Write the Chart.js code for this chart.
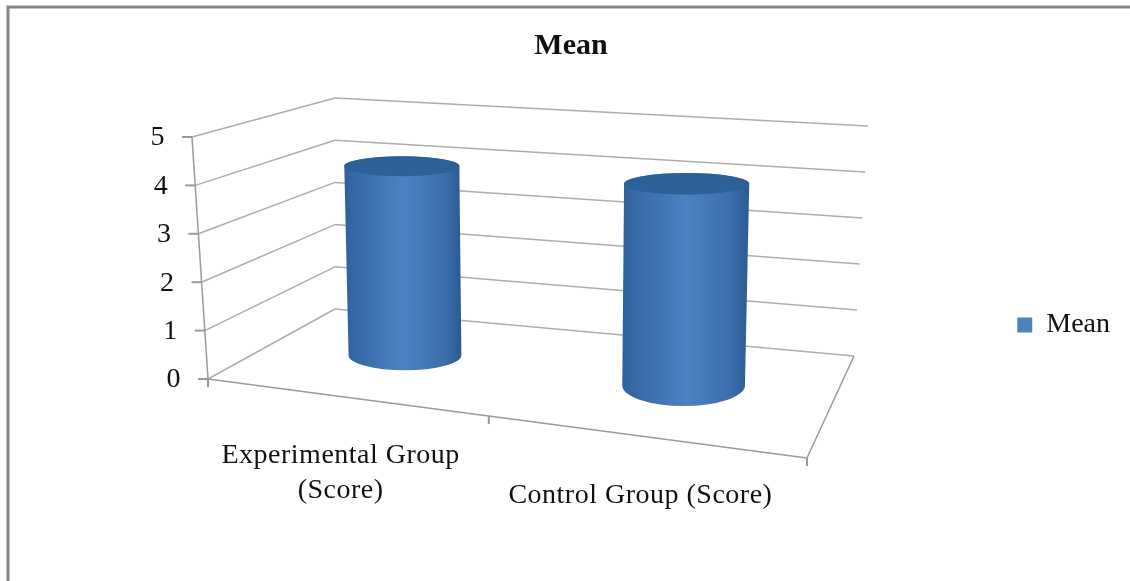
<!DOCTYPE html>
<html>
<head>
<meta charset="utf-8">
<title>Mean</title>
<script src="https://cdn.jsdelivr.net/npm/chart.js@4/dist/chart.umd.min.js"></script>
<style>
body { margin: 0; background: #fff; }
canvas { display: block; }
</style>
</head>
<body>
<canvas id="chart" width="1130" height="581"></canvas>
<script>
var categories = [['Experimental Group', '(Score)'], 'Control Group (Score)'];
var seriesName = 'Mean';
var meanValues = [4.07, 4.16];
var axisMax = 5;

var FONT = '"Liberation Serif", serif';
var GRID = '#adadad';
var AXIS = '#9a9a9a';

// 3d box: floor corners, wall height and lean at each corner
var FL = { x: 208, y: 379, h: 242, dx: -16 };
var FR = { x: 807, y: 458, h: 264, dx: 0 };
var BR = { x: 854, y: 356, h: 230, dx: 14 };
var BL = { x: 335, y: 309, h: 211, dx: 0 };

function floorMap() {
    var sx = FL.x - FR.x + BR.x - BL.x, sy = FL.y - FR.y + BR.y - BL.y;
    var dx1 = FR.x - BR.x, dx2 = BL.x - BR.x, dy1 = FR.y - BR.y, dy2 = BL.y - BR.y;
    var det = dx1 * dy2 - dx2 * dy1;
    var g = (sx * dy2 - dx2 * sy) / det, h = (dx1 * sy - sx * dy1) / det;
    return {
        a: FR.x - FL.x + g * FR.x, b: BL.x - FL.x + h * BL.x,
        d: FR.y - FL.y + g * FR.y, e: BL.y - FL.y + h * BL.y,
        g: g, h: h
    };
}
var M = floorMap();

// u along the categories, d into the depth, t up the value axis (all 0..1)
function project(u, d, t) {
    var w = 1 + M.g * u + M.h * d;
    var x = (FL.x + M.a * u + M.b * d) / w;
    var y = (FL.y + M.d * u + M.e * d) / w;
    var front = u * FR.h + (1 - u) * FL.h, back = u * BR.h + (1 - u) * BL.h;
    var lf = u * FR.dx + (1 - u) * FL.dx, lb = u * BR.dx + (1 - u) * BL.dx;
    return {
        x: x + (lf * (1 - d) + lb * d) * t,
        y: y - (front * (1 - d) + back * d) * t
    };
}

function warpU(u) {
    return u + 0.14 * u * (1 - u);
}

function line(ctx, a, b, color, width) {
    ctx.strokeStyle = color;
    ctx.lineWidth = width;
    ctx.beginPath();
    ctx.moveTo(a.x, a.y);
    ctx.lineTo(b.x, b.y);
    ctx.stroke();
}

function drawFrame(chart) {
    var ctx = chart.ctx, y = chart.scales.y, area = chart.chartArea;
    y.ticks.forEach(function (tick) {
        var t = (area.bottom - y.getPixelForValue(tick.value)) / area.height;
        var a = project(0, 0, t), b = project(0, 1, t), c = project(1, 1, t);
        line(ctx, a, b, GRID, 1.5);
        line(ctx, b, c, GRID, 1.5);
        line(ctx, { x: a.x - 10, y: a.y }, a, AXIS, 2);
    });
    line(ctx, project(0, 0, 0), project(0, 0, 1), AXIS, 1.5);
    line(ctx, project(0, 0, 0), project(1, 0, 0), AXIS, 1.5);
    line(ctx, project(1, 0, 0), project(1, 1, 0), AXIS, 1.5);
    [0, 0.5, 1].forEach(function (u) {
        var p = project(warpU(u), 0, 0);
        line(ctx, p, { x: p.x, y: p.y + 8 }, AXIS, 2);
    });
}

function drawCylinder(chart, el) {
    var ctx = chart.ctx, area = chart.chartArea;
    var u = warpU((el.x - area.left) / area.width);
    var t = (el.base - el.y) / area.height;
    var p0 = project(u, 0.5, 0), p1 = project(u, 0.5, t);
    var rx = (el.width / area.width) / 2 * (542 + 100 * u);
    var rb = rx * 0.99, rt = rx * 1.01;
    var ryb = rx * (0.23 + 0.13 * u), ryt = rx * 0.175;

    var grad = ctx.createLinearGradient(Math.min(p0.x - rb, p1.x - rt), 0, Math.max(p0.x + rb, p1.x + rt), 0);
    grad.addColorStop(0, '#2f619c');
    grad.addColorStop(0.12, '#386aa8');
    grad.addColorStop(0.5, '#4d81c3');
    grad.addColorStop(0.85, '#3d6fae');
    grad.addColorStop(1, '#2a5a93');

    ctx.fillStyle = grad;
    ctx.beginPath();
    ctx.moveTo(p1.x - rt, p1.y);
    ctx.lineTo(p0.x - rb, p0.y);
    ctx.ellipse(p0.x, p0.y, rb, ryb, 0, Math.PI, 0, true);
    ctx.lineTo(p1.x + rt, p1.y);
    ctx.ellipse(p1.x, p1.y, rt, ryt, 0, 0, Math.PI, true);
    ctx.closePath();
    ctx.fill();

    ctx.fillStyle = '#2e6098';
    ctx.beginPath();
    ctx.ellipse(p1.x, p1.y, rt, ryt, 0, 0, Math.PI * 2);
    ctx.fill();
}

function drawLabels(chart) {
    var ctx = chart.ctx, y = chart.scales.y, x = chart.scales.x, area = chart.chartArea;
    ctx.save();
    ctx.font = '28px ' + FONT;
    ctx.letterSpacing = '0.5px';
    ctx.fillStyle = '#111';
    ctx.textBaseline = 'middle';
    ctx.textAlign = 'right';
    y.ticks.forEach(function (tick) {
        var t = (area.bottom - y.getPixelForValue(tick.value)) / area.height;
        var p = project(0, 0, t);
        ctx.fillText(tick.label, p.x - 27, p.y + 1);
    });
    ctx.textAlign = 'center';
    categories.forEach(function (label, i) {
        var p = project(warpU((x.getPixelForValue(i) - area.left) / area.width), 0, 0);
        var lines = [].concat(label);
        lines.forEach(function (text, n) {
            ctx.fillText(text, p.x - 3, p.y + 59 + n * 35);
        });
    });
    ctx.restore();
}

var box3d = {
    id: 'box3d',
    beforeDraw: function (chart) {
        var ctx = chart.ctx;
        ctx.save();
        ctx.fillStyle = '#fff';
        ctx.fillRect(0, 0, chart.width, chart.height);
        ctx.strokeStyle = '#868686';
        ctx.lineWidth = 3;
        ctx.beginPath();
        ctx.moveTo(8, chart.height);
        ctx.lineTo(8, 7);
        ctx.lineTo(chart.width, 7);
        ctx.stroke();
        ctx.restore();
    },
    beforeDatasetDraw: function (chart, args) {
        var ctx = chart.ctx;
        ctx.save();
        drawFrame(chart);
        chart.getDatasetMeta(args.index).data.forEach(function (el) {
            drawCylinder(chart, el);
        });
        drawLabels(chart);
        ctx.restore();
        return false;
    }
};

new Chart(document.getElementById('chart').getContext('2d'), {
    type: 'bar',
    plugins: [box3d],
    data: {
        labels: categories,
        datasets: [{
            label: seriesName,
            data: meanValues,
            backgroundColor: '#4f81bd',
            categoryPercentage: 0.4,
            barPercentage: 1
        }]
    },
    options: {
        responsive: false,
        animation: false,
        layout: { padding: { left: 22, right: 10, top: 14, bottom: 0 } },
        scales: {
            x: { display: false },
            y: { display: false, min: 0, max: axisMax, ticks: { stepSize: 1 } }
        },
        plugins: {
            tooltip: { enabled: false },
            title: {
                display: true,
                text: 'Mean',
                color: '#111',
                font: { family: FONT, size: 30, weight: 'bold' },
                padding: { top: 14, bottom: 5 }
            },
            legend: {
                position: 'right',
                fullSize: false,
                labels: {
                    boxWidth: 15,
                    boxHeight: 15,
                    color: '#111',
                    font: { family: FONT, size: 28 }
                }
            }
        }
    }
});
</script>
</body>
</html>
